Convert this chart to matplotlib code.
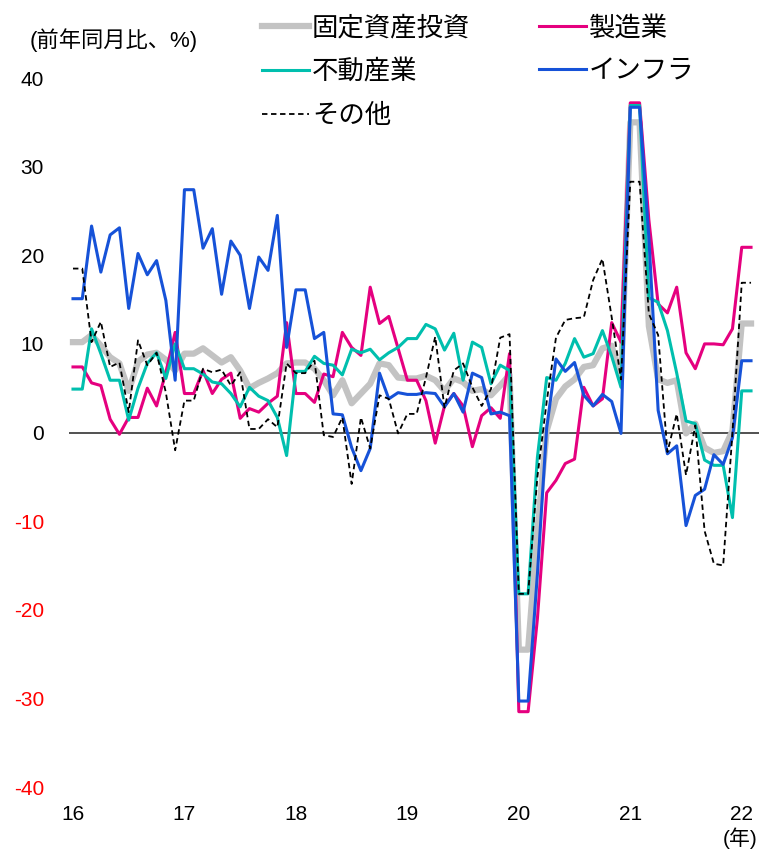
import matplotlib
matplotlib.use("Agg")
import matplotlib.pyplot as plt
import numpy as np

plt.rcParams['font.family'] = ['Liberation Sans', 'Noto Sans CJK JP']
plt.rcParams['axes.unicode_minus'] = False

# 前年同月比(%)、2016年1月～2022年2月 (1月と2月は同じ値)
year_labels = ['16', '17', '18', '19', '20', '21', '22']

fai = [10.2, 10.2, 11.0, 9.8, 8.5, 7.8, 4.7, 8.0, 8.8, 9.0, 8.2, 7.0,
       8.9, 8.9, 9.5, 8.7, 7.9, 8.5, 7.0, 5.0, 5.6, 6.1, 6.7, 7.8,
       7.9, 7.9, 7.2, 5.9, 4.2, 5.9, 3.3, 4.4, 5.5, 7.8, 7.6, 6.2,
       6.1, 6.1, 6.4, 5.9, 4.7, 6.1, 5.7, 4.7, 4.9, 4.2, 5.3, 6.5,
       -24.5, -24.5, -11.0, 0.2, 3.8, 5.2, 6.0, 7.4, 7.6, 9.5, 9.8, 6.0,
       35.0, 35.0, 12.0, 6.0, 5.6, 5.9, -0.1, 1.0, -1.7, -2.3, -2.1, 0.2,
       12.3, 12.3]

manuf = [7.4, 7.4, 5.6, 5.3, 1.5, -0.2, 1.7, 1.7, 5.0, 3.0, 6.8, 11.3,
         4.4, 4.4, 7.0, 4.4, 6.0, 6.7, 1.6, 2.7, 2.3, 3.3, 4.1, 12.4,
         4.4, 4.4, 3.4, 6.6, 6.3, 11.3, 9.6, 8.7, 16.4, 12.3, 13.1, 9.5,
         5.9, 5.9, 3.6, -1.2, 3.0, 4.4, 3.0, -1.6, 1.9, 2.8, 1.6, 8.9,
         -31.5, -31.5, -21.0, -6.8, -5.4, -3.5, -3.0, 5.1, 3.0, 3.8, 12.4, 10.2,
         37.2, 37.2, 24.0, 14.5, 13.5, 16.4, 9.0, 7.2, 10.0, 10.0, 9.9, 11.7,
         20.9, 20.9]

realestate = [4.9, 4.9, 11.7, 8.9, 5.9, 5.9, 1.4, 5.0, 7.8, 9.0, 6.1, 10.0,
              7.2, 7.2, 6.6, 5.7, 5.5, 4.4, 2.9, 5.1, 4.1, 3.6, 1.7, -2.6,
              6.9, 6.9, 8.6, 7.8, 7.6, 6.5, 9.4, 9.0, 9.4, 8.2, 9.0, 9.6,
              10.6, 10.6, 12.2, 11.7, 9.3, 11.2, 5.9, 10.2, 9.6, 5.5, 7.6, 7.0,
              -18.2, -18.2, -2.8, 6.2, 5.9, 7.8, 10.6, 8.5, 8.9, 11.5, 8.6, 5.1,
              36.9, 36.9, 15.2, 14.7, 11.5, 6.7, 1.3, 1.0, -3.1, -3.7, -3.7, -9.6,
              4.7, 4.7]

infra = [15.1, 15.1, 23.3, 18.1, 22.3, 23.1, 14.0, 20.2, 17.8, 19.4, 14.9, 5.9,
         27.4, 27.4, 20.8, 23.0, 15.6, 21.6, 20.0, 14.0, 19.8, 18.3, 24.5, 9.6,
         16.1, 16.1, 10.6, 11.3, 2.1, 2.0, -1.7, -4.3, -1.8, 6.7, 3.8, 4.5,
         4.3, 4.3, 4.5, 4.4, 2.9, 4.4, 2.3, 6.7, 6.2, 2.1, 2.3, 1.9,
         -30.3, -30.3, -16.0, 0.5, 8.3, 6.9, 7.9, 4.2, 3.0, 4.3, 3.5, -0.1,
         36.7, 36.7, 22.0, 2.5, -2.4, -1.5, -10.5, -7.1, -6.4, -2.5, -3.6, -0.6,
         8.1, 8.1]

other = [18.5, 18.5, 10.2, 12.5, 7.4, 7.9, 2.3, 10.4, 7.6, 9.0, 4.5, -2.0,
         3.6, 3.6, 7.2, 6.8, 7.1, 5.3, 6.8, 0.4, 0.4, 1.5, 0.6, 7.8,
         6.7, 6.7, 8.1, -0.3, -0.5, 1.7, -5.8, 1.7, -1.8, 4.2, 3.8, -0.1,
         2.1, 2.1, 6.2, 10.8, 2.8, 7.0, 7.8, 5.1, 3.0, 4.9, 10.7, 11.1,
         -18.2, -18.2, -5.0, 3.5, 10.7, 12.7, 12.9, 13.0, 17.2, 19.6, 13.0, 6.0,
         28.3, 28.3, 13.4, 11.0, -2.2, 2.1, -4.8, 0.8, -11.1, -14.8, -15.0, 0.0,
         16.9, 16.9]

months = np.arange(len(fai))

fig = plt.figure(figsize=(7.59, 8.5), dpi=100)
ax = fig.add_axes([0.0909, 0.0741, 0.909, 0.8341])

ax.axhline(0, color='#333333', lw=1.2, zorder=1)
l1, = ax.plot(months, fai, color='#c3c3c3', lw=4.5, label='固定資産投資', zorder=2)
l2, = ax.plot(months, manuf, color='#e5007f', lw=2.2, label='製造業', zorder=3)
l3, = ax.plot(months, realestate, color='#00bfae', lw=2.2, label='不動産業', zorder=4)
l4, = ax.plot(months, infra, color='#1652d8', lw=2.2, label='インフラ', zorder=5)
l5, = ax.plot(months, other, color='black', lw=1.3, ls=(0, (3, 2)), label='その他', zorder=6)

ax.set_xlim(-0.43, 73.85)
ax.set_ylim(-40, 40)
ax.set_yticks(np.arange(-40, 41, 10))
ax.set_xticks(np.arange(0, 73, 12))
ax.set_xticklabels(year_labels)
ax.tick_params(axis='both', length=0, labelsize=15)
ax.tick_params(axis='y', pad=18)
ax.tick_params(axis='x', pad=13)
for lab, v in zip(ax.get_yticklabels(), np.arange(-40, 41, 10)):
    if v < 0:
        lab.set_color('#ff0000')
for s in ax.spines.values():
    s.set_visible(False)

fig.text(30 / 759, 1 - 40 / 850, '(前年同月比、%)', fontsize=16, va='center', ha='left')
fig.text(740 / 759, 1 - 838 / 850, '(年)', fontsize=15, va='center', ha='center')

fig.legend(handles=[l1, l3, l5, l2, l4], ncol=2, frameon=False,
           loc='upper left', bbox_to_anchor=(238 / 759, 1 + 8 / 850),
           fontsize=19, handlelength=1.8, handletextpad=0.1,
           columnspacing=2.6, labelspacing=0.72)

fig.savefig('out.png', dpi=100)
